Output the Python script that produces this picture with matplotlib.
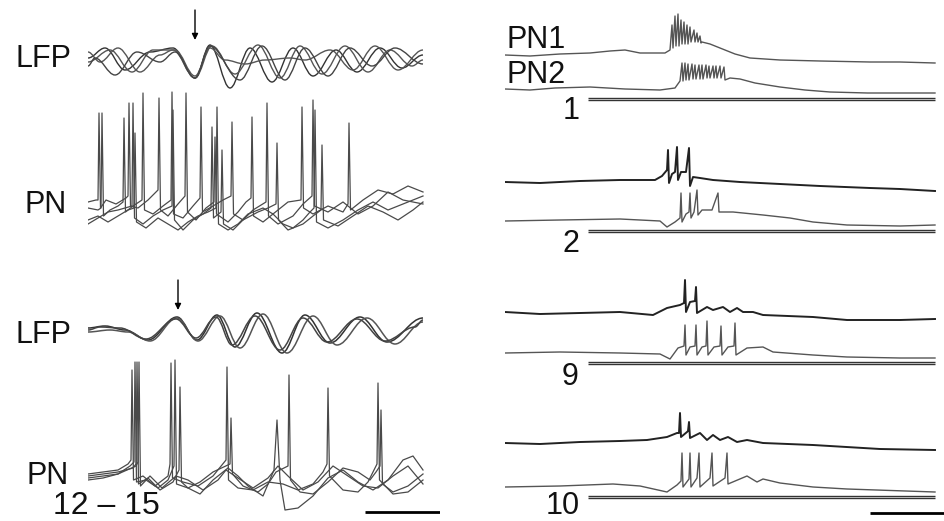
import numpy as np
import matplotlib
matplotlib.use("Agg")
import matplotlib.pyplot as plt
from matplotlib.path import Path
from matplotlib.patches import PathPatch

plt.rcParams['font.family'] = ['Liberation Sans', 'DejaVu Sans']

# ---------------- data ----------------
# left column: time in ms, LFP in arbitrary units, PN membrane potential in mV
# LFP traces, given as successive peaks / troughs (t, v), top block (before)
lfp_top = [
    [(0, 4), (17, 14), (37, -8), (62, 10), (85, 14), (107, -16), (122, 17), (142, -26), (162, 14),
     (184, -20), (205, 14), (225, -14), (248, 12), (269, -10), (292, 14), (314, -6), (335, 7)],
    [(0, 10), (12, 0), (30, 14), (52, -10), (72, 7), (85, 12), (107, -16), (124, 16), (147, -12),
     (170, 17), (192, -16), (212, 16), (234, -12), (257, 16), (280, -10), (302, 12), (324, -4), (335, 2)],
    [(0, 0), (22, 12), (44, -10), (65, 12), (87, 12), (107, -14), (122, 14), (137, 2), (157, -2),
     (177, 2), (202, 4), (217, 2), (242, 12), (265, -8), (287, 16), (310, -8), (335, 12)],
    [(0, -4), (7, 4), (27, -13), (49, 10), (72, 0), (87, 10), (107, -16), (122, 16), (152, -18),
     (174, 16), (197, -18), (217, 14), (240, -14), (262, 14), (284, -4), (307, 14), (335, -2)],
]
# PN traces, top block
pn_top = [
    [(0, 28), (8, 30), (10, 30), (11, 117), (12.5, 22), (18, 30), (28, 26), (38, 32), (40, 34), (41, 127),
     (42.5, 24), (50, 22), (60, 30), (68, 38), (70, 40), (71, 132), (72.5, 20), (80, 14), (90, 26), (97, 34),
     (98, 137), (99.5, 18), (108, 10), (118, 22), (126, 28), (127, 93), (128.5, 16), (140, 8), (150, 18),
     (158, 28), (163, 32), (164, 113), (165.5, 14), (175, 8), (190, 20), (200, 28), (213, 30), (214, 123),
     (215.5, 22), (225, 16), (240, 24), (255, 18), (260, 26), (261, 107), (262.5, 20), (275, 30), (290, 40),
     (305, 36), (320, 44), (335, 38)],
    [(0, 22), (10, 20), (13, 22), (14, 117), (15.5, 14), (22, 20), (30, 24), (35, 28), (36, 112), (37.5, 18),
     (45, 24), (54, 30), (55, 137), (56.5, 20), (65, 16), (75, 24), (83, 30), (84, 138), (85.5, 16), (95, 12),
     (105, 24), (112, 32), (113, 123), (114.5, 18), (125, 24), (135, 30), (143, 34), (144, 108), (145.5, 16),
     (155, 10), (165, 20), (178, 28), (179, 127), (180.5, 14), (190, 6), (205, 14), (215, 26), (224, 34),
     (225, 130), (226.5, 24), (240, 18), (255, 28), (270, 16), (285, 24), (300, 38), (315, 30), (335, 26)],
    [(0, 6), (10, 12), (20, 18), (30, 20), (44, 24), (45, 127), (46.5, 12), (55, 6), (65, 14), (75, 20),
     (84, 24), (85, 120), (86.5, 10), (95, 0), (105, 10), (115, 16), (123, 22), (124, 103), (125.5, 12),
     (133, 18), (134, 80), (135.5, 6), (145, 0), (155, 10), (170, 18), (180, 22), (188, 26), (189, 87),
     (190.5, 10), (200, 0), (215, 6), (225, 14), (233, 20), (234, 85), (235.5, 10), (250, 4), (265, 14),
     (280, 24), (295, 18), (310, 10), (325, 20), (335, 28)],
    [(0, 10), (10, 14), (20, 8), (30, 14), (40, 20), (46, 22), (47, 97), (48.5, 8), (58, 2), (70, 12), (80, 6),
     (90, 0), (100, 8), (110, 14), (120, 18), (128, 22), (129, 123), (130.5, 6), (140, 0), (150, 6), (160, 16),
     (175, 22), (185, 16), (195, 6), (205, 2), (215, 10), (222, 18), (226, 22), (227, 120), (228.5, 8),
     (240, 2), (255, 10), (270, 20), (285, 28), (300, 20), (315, 26), (335, 34)],
]
# LFP traces, bottom block (12 - 15)
lfp_bot = [
    [(0, 2), (17, 4), (37, 0), (60, -10), (89, 13), (109, -10), (129, 15), (147, -17), (169, 17), (194, -23),
     (217, 15), (242, -13), (272, 13), (299, -12), (335, 12)],
    [(0, -2), (22, 0), (40, -2), (62, -11), (89, 12), (110, -11), (132, 14), (152, -18), (175, 16), (199, -23),
     (225, 14), (249, -15), (279, 12), (307, -14), (335, 8)],
    [(0, 0), (12, 3), (32, 2), (58, -9), (88, 11), (108, -8), (128, 13), (144, -15), (167, 14), (192, -20),
     (215, 12), (239, -12), (269, 11), (297, -11), (327, 3), (335, 10)],
]
pn_bot = [
    [(0, 16), (15, 18), (30, 20), (40, 26), (43, 30), (44, 120), (45.5, 10), (55, 14), (67, 4), (80, 14),
     (82, 26), (83, 127), (84.5, 12), (95, 8), (110, 4), (125, 14), (138, 30), (139, 123), (140.5, 10),
     (150, 2), (165, 0), (180, 8), (195, 6), (210, 0), (225, 6), (235, 18), (239, 26), (240, 102), (241.5, 14),
     (255, 0), (270, -2), (280, 8), (289, 26), (290, 107), (291.5, 10), (305, -4), (320, -2), (335, 10)],
    [(0, 10), (15, 12), (30, 16), (42, 24), (46, 28), (47, 128), (48.5, 8), (58, 10), (70, 2), (80, 10),
     (86, 24), (87, 130), (88.5, 6), (100, 2), (112, 8), (125, 18), (142, 26), (143, 72), (144.5, 16),
     (155, 4), (170, -2), (180, 6), (188, 18), (200, 24), (201, 115), (202.5, 10), (212, -2), (225, -4),
     (240, 8), (255, 22), (270, 18), (282, 10), (288, 18), (292, 24), (293, 80), (294.5, 6), (305, -2),
     (320, 4), (335, 16)],
    [(0, 14), (15, 16), (30, 18), (45, 22), (48, 26), (49, 128), (50.5, 6), (60, 12), (72, 0), (85, 8),
     (91, 20), (92, 103), (93.5, 8), (100, 2), (112, -4), (125, 10), (140, 22), (150, 14), (160, 4),
     (175, -6), (186, 20), (189, 70), (192, 10), (197, -20), (210, -18), (225, -6), (240, 12), (255, 20),
     (270, 8), (285, 0), (300, 10), (315, 30), (325, 34), (335, 20)],
    [(0, 12), (15, 14), (30, 16), (48, 24), (50, 28), (51, 128), (52.5, 4), (62, 14), (74, 2), (88, 14),
     (100, 10), (115, 0), (130, 10), (138, 20), (150, 12), (165, 2), (180, 12), (190, 24), (200, 14),
     (215, 0), (230, 8), (245, 24), (260, 14), (275, 4), (290, 2), (305, 14), (320, 24), (335, 6)],
]
stim_t_left_top = 107      # arrow (ms)
stim_t_left_bot = 90
scale_left = 75            # ms

# right column: time in ms, membrane potential in mV (relative to rest)
pn1_trial1 = [(0, 0), (100, -1), (220, 1), (340, 2), (420, 4), (480, 5), (540, 2), (640, 2), (660, 5),
              (668, 30), (672, 7), (680, 39), (684, 9), (692, 41), (696, 9), (704, 35), (708, 11), (716, 33),
              (720, 11), (728, 30), (732, 11), (740, 28), (744, 13), (756, 25), (760, 13), (768, 22),
              (772, 13), (780, 19), (784, 12), (788, 13), (820, 11), (860, 7), (920, 1), (980, -3),
              (1100, -5), (1260, -6), (1460, -7), (1580, -7), (1720, -8)]
pn2_trial1 = [(0, 0), (100, -1), (200, 1), (340, 2), (480, 0), (620, -1), (680, 1), (700, 8), (708, 26),
              (712, 8), (720, 26), (724, 9), (732, 25), (736, 9), (748, 25), (752, 10), (760, 24), (764, 10),
              (776, 24), (780, 10), (788, 24), (792, 10), (804, 24), (808, 11), (816, 23), (820, 11),
              (832, 23), (836, 11), (844, 23), (848, 11), (860, 23), (864, 11), (876, 22), (880, 9),
              (900, 11), (940, 10), (1000, 6), (1100, 2), (1200, -1), (1300, -3), (1450, -4), (1720, -4)]
pn1_trial2 = [(0, 0), (140, -1), (300, 1), (460, 2), (600, 2), (628, 6), (648, 12), (652, 32), (656, -1),
              (668, 8), (680, 10), (688, 35), (692, 2), (704, 10), (724, 10), (736, 34), (740, -4), (752, 5),
              (780, 4), (832, 2), (940, 0), (1100, -2), (1260, -4), (1460, -6), (1580, -7), (1720, -9)]
pn2_trial2 = [(0, 0), (220, 1), (460, 2), (620, 0), (648, -6), (680, -1), (700, 3), (704, 28), (708, -1),
              (724, 7), (736, 9), (740, 28), (744, 3), (756, 9), (768, 31), (772, 6), (788, 11), (828, 11),
              (852, 28), (856, 9), (912, 9), (1032, 6), (1140, 3), (1232, -1), (1368, -4), (1580, -5),
              (1720, -4)]
pn1_trial9 = [(0, 0), (140, -2), (300, -1), (460, 0), (592, -3), (648, 4), (700, 7), (716, 9), (720, 32),
              (724, 0), (740, 10), (760, 11), (764, 25), (768, -1), (808, 5), (832, 2), (872, 5), (900, 0),
              (928, 4), (952, 0), (992, 0), (1032, -3), (1232, -5), (1368, -8), (1580, -8), (1720, -7)]
pn2_trial9 = [(0, 0), (220, 1), (460, 0), (620, -1), (660, -6), (692, 5), (716, 7), (720, 28), (724, -2),
              (740, 6), (760, 7), (764, 28), (768, -2), (788, 6), (804, 7), (808, 32), (812, -2), (836, 6),
              (860, 7), (864, 27), (868, -2), (892, 6), (916, 7), (920, 30), (924, -2), (968, 5), (1032, 6),
              (1072, 1), (1232, -2), (1368, -4), (1580, -5), (1720, -5)]
pn1_trial10 = [(0, 0), (140, -1), (300, 1), (460, 2), (568, 3), (648, 6), (688, 10), (696, 10), (700, 30),
               (704, 6), (728, 11), (732, 12), (736, 21), (740, 5), (780, 10), (808, 3), (832, 8), (860, 3),
               (892, 6), (928, 1), (968, 3), (1032, 0), (1232, -2), (1500, -6), (1720, -7)]
pn2_trial10 = [(0, 0), (220, 1), (432, 3), (540, 1), (648, -5), (688, 2), (704, 6), (708, 34), (712, 0),
               (736, 8), (740, 34), (744, 0), (768, 9), (776, 34), (780, 0), (820, 9), (828, 34), (832, 1),
               (880, 9), (888, 34), (892, 3), (968, 11), (1008, 5), (1032, 8), (1100, 4), (1232, 0),
               (1368, -2), (1720, -5)]
trial_labels = ['1', '2', '9', '10']
odor_on, odor_off = 332, 1720     # ms
scale_right = 300                 # ms

# ---------------- layout ----------------
W, H = 945, 521
fig = plt.figure(figsize=(W / 100, H / 100), dpi=100)
fig.patch.set_facecolor('white')


def px_axes(x0, y_top, x1, y_bot):
    ax = fig.add_axes([x0 / W, 1 - y_bot / H, (x1 - x0) / W, (y_bot - y_top) / H])
    ax.set_axis_off()
    return ax


def label(x, y, s, size=22):
    fig.text(x / W, 1 - y / H, s, fontsize=size, va='baseline', ha='left', color='#111')


def wave(ax, pts, color='#444', lw=1.0):
    # smooth curve through peaks/troughs with flat tangents at each vertex
    verts = [pts[0]]
    codes = [Path.MOVETO]
    for (x0, y0), (x1, y1) in zip(pts[:-1], pts[1:]):
        d = (x1 - x0) * 0.364
        verts += [(x0 + d, y0), (x1 - d, y1), (x1, y1)]
        codes += [Path.CURVE4] * 3
    ax.add_patch(PathPatch(Path(verts, codes), fill=False, ec=color, lw=lw))


def trace(ax, pts, color='#444', lw=1.0):
    t, v = np.array(pts).T
    ax.plot(t, v, color=color, lw=lw, solid_joinstyle='round')


arrow_kw = dict(arrowstyle='-|>', color='k', lw=1.0, mutation_scale=9, shrinkA=0, shrinkB=0)

# left top block
ax = px_axes(88, 5, 440, 95)
ax.set_xlim(0, 352); ax.set_ylim(-33, 57)
for i, p in enumerate(lfp_top):
    wave(ax, p, color=['#333', '#555', '#555', '#444'][i])
ax.annotate('', xy=(stim_t_left_top, 22), xytext=(stim_t_left_top, 52), arrowprops=arrow_kw)

ax = px_axes(88, 85, 440, 240)
ax.set_xlim(0, 352); ax.set_ylim(-10, 145)
for p in pn_top:
    trace(ax, p, color='#4a4a4a', lw=0.9)

# left bottom block
ax = px_axes(88, 270, 440, 365)
ax.set_xlim(0, 352); ax.set_ylim(-35, 60)
for i, p in enumerate(lfp_bot):
    wave(ax, p, color=['#333', '#555', '#444'][i], lw=1.1)
ax.annotate('', xy=(stim_t_left_bot, 20), xytext=(stim_t_left_bot, 50), arrowprops=arrow_kw)

ax = px_axes(88, 350, 440, 520)
ax.set_xlim(0, 352); ax.set_ylim(-30, 140)
for p in pn_bot:
    trace(ax, p, color='#4a4a4a', lw=0.9)
ax.plot([352 - scale_left, 352], [-22, -22], color='k', lw=2.0, solid_capstyle='butt')

label(15, 67, 'LFP')
label(25, 213, 'PN')
label(15, 343, 'LFP')
label(27, 484, 'PN')
label(53, 514, '12 \u2013 15', size=23)

# right column
right_pairs = [(pn1_trial1, pn2_trial1), (pn1_trial2, pn2_trial2),
               (pn1_trial9, pn2_trial9), (pn1_trial10, pn2_trial10)]
bases = [(55, 89), (182, 221), (312, 353), (443, 487)]
label_x = [563, 562, 562, 546]
label_y = [119, 252, 385, 514]
for k, ((p1, p2), (b1, b2)) in enumerate(zip(right_pairs, bases)):
    c1, w1 = ('#555', 1.0) if k == 0 else ('#222', 1.4)
    ax = px_axes(505, b1 - 50, 945, b1 + 15)
    ax.set_xlim(0, 1760); ax.set_ylim(-15, 50)
    trace(ax, p1, color=c1, lw=w1)
    ax = px_axes(505, b2 - 50, 945, b2 + 30)
    ax.set_xlim(0, 1760); ax.set_ylim(-30, 50)
    trace(ax, p2, color='#555', lw=1.0)
    # odour pulse
    for dv in (-8.5, -10.5):
        ax.plot([odor_on, odor_off], [dv, dv], color='#333', lw=1.0, solid_capstyle='butt')
    if k == 3:
        ax.plot([1760 - scale_right, 1760], [-26, -26], color='k', lw=2.0, solid_capstyle='butt')
    label(label_x[k], label_y[k], trial_labels[k])

label(507, 48, 'PN1')
label(507, 83, 'PN2')

fig.savefig('out.png', dpi=100, facecolor='white')
